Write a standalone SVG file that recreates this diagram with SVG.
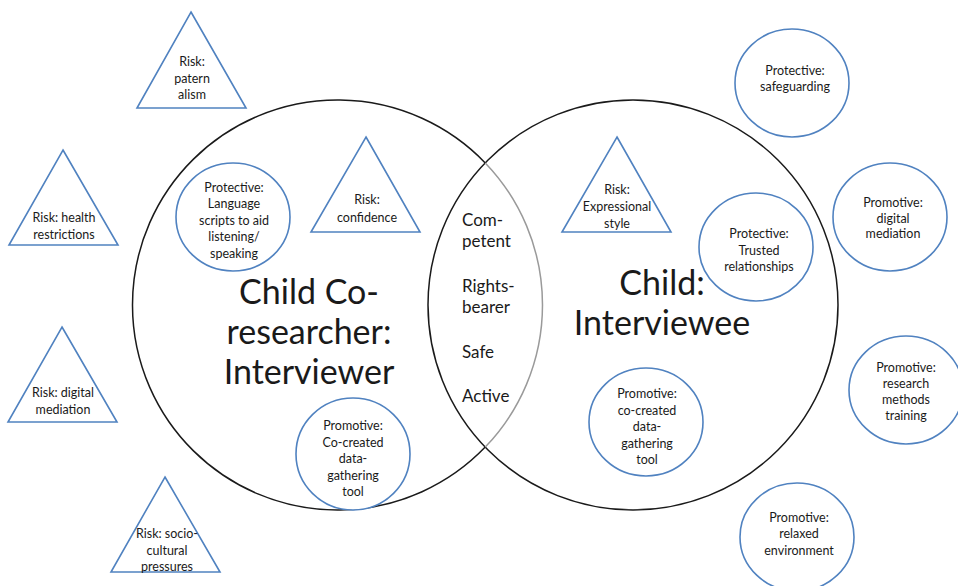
<svg xmlns="http://www.w3.org/2000/svg" width="958" height="586" viewBox="0 0 958 586">
<style>
.bg{fill:#ffffff}
.big{fill:none;stroke:#1a1a1a;stroke-width:1.5}
.lens{fill:none;stroke:#9a9a9a;stroke-width:1.5}
.tri,.cir{fill:#ffffff;stroke:#5082c0;stroke-width:1.6}
text{font-family:Lato,"Open Sans","Liberation Sans",sans-serif;fill:#1a1a1a;text-anchor:middle}
.s{font-size:12.5px}
.m{font-size:17px;text-anchor:start}
.L{font-size:34px}
</style>
<rect class="bg" x="0" y="0" width="958" height="586"/>
<g id="connectors">
<path class="big" d="M485.25,447.1 A205,205 0 1 1 485.25,162.9"/>
<circle class="big" cx="633" cy="305" r="205"/>
<path class="lens" d="M485.25,162.9 A205,205 0 0 1 485.25,447.1"/>
</g>
<g id="label-coresearcher">
<text class="L" x="309" y="304">Child Co-</text>
<text class="L" x="309" y="344">researcher:</text>
<text class="L" x="309" y="384">Interviewer</text>
</g>
<g id="label-interviewee">
<text class="L" x="662" y="295">Child:</text>
<text class="L" x="662" y="335">Interviewee</text>
</g>
<g id="shared">
<text class="m" x="462" y="226">Com-</text>
<text class="m" x="462" y="247">petent</text>
<text class="m" x="462" y="292">Rights-</text>
<text class="m" x="462" y="313">bearer</text>
<text class="m" x="462" y="358">Safe</text>
<text class="m" x="462" y="402">Active</text>
</g>
<g id="risk-paternalism">
<polygon class="tri" points="191,12 246,108 137,108"/>
<text class="s" x="192" y="66">Risk:</text>
<text class="s" x="192" y="83">patern</text>
<text class="s" x="192" y="99">alism</text>
</g>
<g id="risk-health">
<polygon class="tri" points="63,150 118,245 9,245"/>
<text class="s" x="64" y="222">Risk: health</text>
<text class="s" x="64" y="239">restrictions</text>
</g>
<g id="risk-digital">
<polygon class="tri" points="62,327 117,422 8,422"/>
<text class="s" x="63" y="397">Risk: digital</text>
<text class="s" x="63" y="414">mediation</text>
</g>
<g id="risk-socio">
<polygon class="tri" points="165,477 220,572 111,572"/>
<text class="s" x="167" y="538">Risk: socio-</text>
<text class="s" x="167" y="555">cultural</text>
<text class="s" x="167" y="571">pressures</text>
</g>
<g id="risk-confidence">
<polygon class="tri" points="366,137 420,232 311,232"/>
<text class="s" x="367" y="204">Risk:</text>
<text class="s" x="367" y="222">confidence</text>
</g>
<g id="risk-expressional">
<polygon class="tri" points="617,137 671,232 562,232"/>
<text class="s" x="617" y="194">Risk:</text>
<text class="s" x="617" y="211">Expressional</text>
<text class="s" x="617" y="228">style</text>
</g>
<g id="protective-language">
<ellipse class="cir" cx="233" cy="217" rx="57" ry="54"/>
<text class="s" x="234" y="192">Protective:</text>
<text class="s" x="234" y="208">Language</text>
<text class="s" x="234" y="225">scripts to aid</text>
<text class="s" x="234" y="241">listening/</text>
<text class="s" x="234" y="258">speaking</text>
</g>
<g id="promotive-cocreated-left">
<ellipse class="cir" cx="353" cy="454" rx="57" ry="56"/>
<text class="s" x="353" y="430">Promotive:</text>
<text class="s" x="353" y="447">Co-created</text>
<text class="s" x="353" y="463">data-</text>
<text class="s" x="353" y="480">gathering</text>
<text class="s" x="353" y="496">tool</text>
</g>
<g id="protective-trusted">
<ellipse class="cir" cx="756" cy="247" rx="57" ry="54"/>
<text class="s" x="759" y="238">Protective:</text>
<text class="s" x="759" y="255">Trusted</text>
<text class="s" x="759" y="271">relationships</text>
</g>
<g id="promotive-cocreated-right">
<ellipse class="cir" cx="646" cy="422" rx="57" ry="54"/>
<text class="s" x="647" y="398">Promotive:</text>
<text class="s" x="647" y="415">co-created</text>
<text class="s" x="647" y="431">data-</text>
<text class="s" x="647" y="448">gathering</text>
<text class="s" x="647" y="464">tool</text>
</g>
<g id="protective-safeguarding">
<ellipse class="cir" cx="792" cy="83" rx="57" ry="54"/>
<text class="s" x="795" y="75">Protective:</text>
<text class="s" x="795" y="91">safeguarding</text>
</g>
<g id="promotive-digital">
<ellipse class="cir" cx="890" cy="217" rx="57" ry="54"/>
<text class="s" x="893" y="207">Promotive:</text>
<text class="s" x="893" y="223">digital</text>
<text class="s" x="893" y="238">mediation</text>
</g>
<g id="promotive-research">
<ellipse class="cir" cx="906" cy="390" rx="57" ry="54"/>
<text class="s" x="906" y="372">Promotive:</text>
<text class="s" x="906" y="388">research</text>
<text class="s" x="906" y="404">methods</text>
<text class="s" x="906" y="420">training</text>
</g>
<g id="promotive-relaxed">
<ellipse class="cir" cx="797" cy="537" rx="57" ry="54"/>
<text class="s" x="799" y="522">Promotive:</text>
<text class="s" x="799" y="538">relaxed</text>
<text class="s" x="799" y="555">environment</text>
</g>
</svg>
